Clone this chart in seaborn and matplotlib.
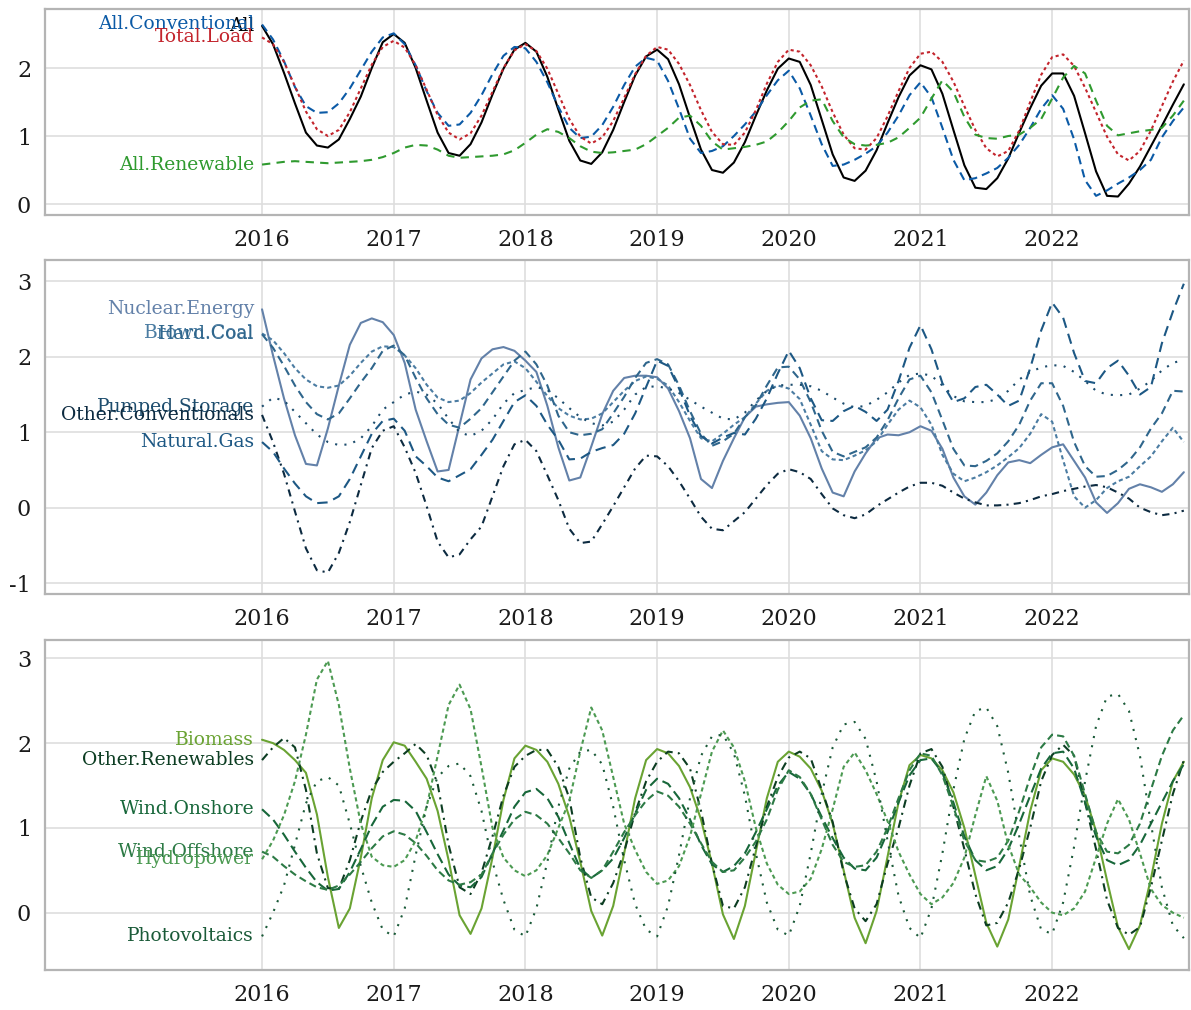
import numpy as np
import pandas as pd
import matplotlib
matplotlib.use("Agg")
import matplotlib.pyplot as plt
import seaborn as sns

# Monthly time axis, Jan 2016 .. Jan 2023 (decimal years)
years = 2016 + np.arange(85) / 12

# ---------------- Panel 1: totals ----------------
all_total = [2.62, 2.35, 1.93, 1.48, 1.05, 0.86, 0.83, 0.95, 1.25, 1.58, 2.00, 2.38,
             2.50, 2.37, 2.00, 1.52, 1.05, 0.75, 0.71, 0.88, 1.20, 1.61, 1.99, 2.27,
             2.37, 2.24, 1.87, 1.39, 0.93, 0.64, 0.59, 0.76, 1.09, 1.50, 1.89, 2.17,
             2.27, 2.13, 1.76, 1.27, 0.80, 0.50, 0.46, 0.61, 0.91, 1.30, 1.67, 1.99,
             2.14, 2.09, 1.75, 1.24, 0.73, 0.39, 0.34, 0.49, 0.79, 1.19, 1.57, 1.89,
             2.04, 1.98, 1.62, 1.09, 0.57, 0.24, 0.22, 0.38, 0.67, 1.05, 1.41, 1.74,
             1.92, 1.92, 1.59, 1.04, 0.48, 0.12, 0.11, 0.30, 0.55, 0.85, 1.15, 1.46,
             1.76]
all_conventional = [2.64, 2.42, 2.10, 1.72, 1.44, 1.34, 1.35, 1.48, 1.70, 1.97, 2.24, 2.45,
                    2.51, 2.35, 2.04, 1.66, 1.34, 1.15, 1.17, 1.34, 1.60, 1.91, 2.18, 2.31,
                    2.29, 2.09, 1.79, 1.43, 1.12, 0.97, 0.99, 1.16, 1.43, 1.75, 2.02, 2.15,
                    2.11, 1.81, 1.40, 0.96, 0.75, 0.78, 0.85, 1.00, 1.17, 1.36, 1.60, 1.82,
                    1.96, 1.70, 1.30, 0.88, 0.56, 0.58, 0.65, 0.74, 0.85, 1.05, 1.30, 1.60,
                    1.79, 1.57, 1.12, 0.65, 0.35, 0.38, 0.45, 0.53, 0.68, 0.87, 1.12, 1.40,
                    1.60, 1.40, 0.95, 0.35, 0.12, 0.20, 0.30, 0.39, 0.50, 0.65, 0.98, 1.22,
                    1.42]
total_load = [2.45, 2.35, 2.09, 1.73, 1.36, 1.10, 1.00, 1.09, 1.35, 1.70, 2.05, 2.31,
              2.40, 2.30, 2.04, 1.68, 1.31, 1.05, 0.95, 1.04, 1.30, 1.65, 2.00, 2.26,
              2.35, 2.25, 1.99, 1.62, 1.25, 0.99, 0.89, 0.98, 1.22, 1.56, 1.91, 2.18,
              2.31, 2.27, 2.06, 1.75, 1.38, 1.06, 0.88, 0.87, 1.05, 1.38, 1.77, 2.09,
              2.27, 2.24, 2.04, 1.73, 1.35, 1.02, 0.82, 0.80, 0.97, 1.29, 1.66, 2.00,
              2.21, 2.24, 2.09, 1.80, 1.44, 1.09, 0.82, 0.70, 0.78, 1.08, 1.50, 1.90,
              2.16, 2.20, 2.03, 1.71, 1.35, 0.99, 0.73, 0.64, 0.78, 1.08, 1.44, 1.80,
              2.11]
all_renewable = [0.58, 0.60, 0.62, 0.63, 0.62, 0.61, 0.60, 0.61, 0.62, 0.63, 0.65, 0.69,
                 0.75, 0.83, 0.87, 0.86, 0.80, 0.71, 0.68, 0.69, 0.70, 0.71, 0.73, 0.79,
                 0.90, 1.02, 1.10, 1.06, 0.97, 0.85, 0.77, 0.75, 0.76, 0.78, 0.80, 0.88,
                 1.00, 1.12, 1.27, 1.30, 1.15, 0.92, 0.80, 0.82, 0.84, 0.87, 0.92, 1.05,
                 1.22, 1.42, 1.52, 1.54, 1.22, 0.98, 0.88, 0.86, 0.87, 0.90, 0.98, 1.12,
                 1.27, 1.55, 1.82, 1.65, 1.28, 1.02, 0.97, 0.96, 1.00, 1.02, 1.12, 1.25,
                 1.55, 1.86, 2.03, 1.92, 1.52, 1.15, 1.01, 1.04, 1.07, 1.09, 1.12, 1.30,
                 1.52]

# ---------------- Panel 2: conventional sources ----------------
nuclear = [2.63, 2.02, 1.45, 0.96, 0.58, 0.56, 1.05, 1.62, 2.16, 2.45, 2.51, 2.46,
           2.29, 1.92, 1.30, 0.88, 0.48, 0.50, 1.10, 1.70, 1.98, 2.10, 2.13, 2.08,
           1.95, 1.80, 1.35, 0.80, 0.36, 0.40, 0.81, 1.24, 1.55, 1.72, 1.75, 1.75,
           1.73, 1.58, 1.28, 0.92, 0.38, 0.26, 0.62, 0.92, 1.20, 1.34, 1.37, 1.39,
           1.40, 1.22, 0.92, 0.52, 0.20, 0.15, 0.48, 0.72, 0.92, 0.97, 0.96, 1.00,
           1.08, 1.02, 0.78, 0.40, 0.15, 0.04, 0.20, 0.43, 0.60, 0.63, 0.59, 0.70,
           0.80, 0.84, 0.62, 0.40, 0.07, -0.07, 0.06, 0.25, 0.31, 0.27, 0.21, 0.31,
           0.47]
brown_coal = [2.31, 2.22, 2.05, 1.85, 1.70, 1.61, 1.59, 1.62, 1.75, 1.92, 2.07, 2.14,
              2.13, 2.02, 1.85, 1.63, 1.46, 1.40, 1.42, 1.52, 1.66, 1.78, 1.90, 1.94,
              1.85, 1.67, 1.48, 1.32, 1.22, 1.17, 1.18, 1.25, 1.40, 1.55, 1.68, 1.74,
              1.71, 1.62, 1.40, 1.15, 0.92, 0.88, 0.98, 1.10, 1.20, 1.38, 1.55, 1.62,
              1.58, 1.44, 1.10, 0.75, 0.64, 0.63, 0.69, 0.76, 0.88, 1.10, 1.30, 1.42,
              1.33, 1.10, 0.70, 0.45, 0.35, 0.40, 0.47, 0.56, 0.67, 0.79, 0.98, 1.24,
              1.14, 0.63, 0.15, 0.00, 0.10, 0.26, 0.35, 0.41, 0.55, 0.68, 0.88, 1.06,
              0.87]
hard_coal = [2.30, 2.12, 1.88, 1.62, 1.40, 1.24, 1.17, 1.25, 1.45, 1.66, 1.85, 2.08,
             2.15, 2.02, 1.72, 1.45, 1.24, 1.10, 1.06, 1.18, 1.32, 1.53, 1.74, 1.95,
             2.07, 1.90, 1.62, 1.22, 1.00, 0.96, 0.98, 1.04, 1.25, 1.47, 1.72, 1.92,
             1.97, 1.90, 1.62, 1.28, 0.98, 0.82, 0.88, 0.98, 1.20, 1.36, 1.62, 1.86,
             1.87, 1.70, 1.40, 1.02, 0.74, 0.68, 0.74, 0.80, 0.93, 1.16, 1.45, 1.70,
             1.75, 1.53, 1.16, 0.78, 0.56, 0.55, 0.62, 0.72, 0.88, 1.10, 1.42, 1.65,
             1.65, 1.35, 0.87, 0.55, 0.41, 0.42, 0.50, 0.62, 0.80, 1.05, 1.25, 1.55,
             1.54]
pumped_storage = [1.34, 1.46, 1.42, 1.27, 1.12, 0.97, 0.87, 0.83, 0.84, 0.92, 1.08, 1.30,
                  1.40, 1.50, 1.54, 1.50, 1.38, 1.18, 1.00, 0.95, 1.02, 1.17, 1.38, 1.52,
                  1.56, 1.60, 1.56, 1.45, 1.32, 1.20, 1.12, 1.09, 1.14, 1.30, 1.50, 1.60,
                  1.61, 1.58, 1.52, 1.43, 1.34, 1.26, 1.18, 1.17, 1.26, 1.42, 1.55, 1.62,
                  1.63, 1.63, 1.61, 1.55, 1.46, 1.38, 1.33, 1.35, 1.43, 1.53, 1.66, 1.76,
                  1.78, 1.75, 1.62, 1.48, 1.41, 1.40, 1.40, 1.44, 1.55, 1.70, 1.80, 1.86,
                  1.89, 1.88, 1.80, 1.68, 1.55, 1.50, 1.49, 1.50, 1.58, 1.68, 1.82, 1.92,
                  1.96]
other_conventionals = [1.23, 0.87, 0.45, -0.05, -0.54, -0.83, -0.86, -0.60, -0.19, 0.30, 0.79, 1.02,
                       1.08, 0.80, 0.46, 0.02, -0.45, -0.66, -0.62, -0.42, -0.25, 0.15, 0.55, 0.84,
                       0.90, 0.75, 0.43, 0.10, -0.28, -0.47, -0.45, -0.22, 0.02, 0.27, 0.52, 0.69,
                       0.68, 0.55, 0.35, 0.12, -0.12, -0.28, -0.30, -0.18, -0.06, 0.12, 0.30, 0.45,
                       0.51, 0.47, 0.38, 0.18, -0.01, -0.10, -0.14, -0.09, 0.02, 0.11, 0.20, 0.28,
                       0.33, 0.33, 0.29, 0.20, 0.12, 0.07, 0.03, 0.03, 0.04, 0.06, 0.10, 0.15,
                       0.18, 0.22, 0.25, 0.28, 0.30, 0.27, 0.20, 0.12, 0.00, -0.06, -0.10, -0.08,
                       -0.04]
natural_gas = [0.87, 0.74, 0.52, 0.32, 0.15, 0.06, 0.07, 0.15, 0.38, 0.68, 0.98, 1.15,
               1.18, 1.02, 0.68, 0.55, 0.40, 0.35, 0.43, 0.51, 0.70, 0.90, 1.15, 1.40,
               1.49, 1.35, 1.10, 0.90, 0.64, 0.65, 0.74, 0.79, 0.83, 0.98, 1.25, 1.60,
               1.95, 1.88, 1.58, 1.22, 0.95, 0.85, 0.93, 0.99, 0.97, 1.18, 1.45, 1.78,
               2.08, 1.85, 1.45, 1.16, 1.15, 1.28, 1.35, 1.27, 1.15, 1.30, 1.68, 2.12,
               2.42, 2.10, 1.65, 1.40, 1.45, 1.60, 1.63, 1.50, 1.35, 1.42, 1.85, 2.35,
               2.72, 2.52, 2.05, 1.68, 1.65, 1.85, 1.95, 1.75, 1.50, 1.60, 2.18, 2.60,
               2.97]

# ---------------- Panel 3: renewable sources ----------------
biomass = [2.04, 2.00, 1.92, 1.80, 1.65, 1.16, 0.42, -0.18, 0.05, 0.65, 1.35, 1.80,
           2.01, 1.97, 1.78, 1.58, 1.20, 0.62, -0.03, -0.25, 0.05, 0.65, 1.33, 1.82,
           1.97, 1.92, 1.78, 1.52, 1.13, 0.60, 0.02, -0.27, 0.08, 0.70, 1.35, 1.80,
           1.93, 1.88, 1.73, 1.48, 1.10, 0.58, -0.02, -0.31, 0.08, 0.72, 1.35, 1.78,
           1.90, 1.84, 1.70, 1.44, 1.05, 0.50, -0.06, -0.36, 0.02, 0.66, 1.30, 1.74,
           1.86, 1.82, 1.68, 1.42, 1.00, 0.44, -0.12, -0.40, -0.08, 0.55, 1.20, 1.68,
           1.82, 1.78, 1.63, 1.38, 0.96, 0.38, -0.17, -0.43, -0.15, 0.40, 1.05, 1.55,
           1.78]
other_renewables = [1.80, 1.95, 2.06, 1.95, 1.45, 0.70, 0.29, 0.28, 0.62, 1.08, 1.45, 1.66,
                    1.78, 1.88, 1.99, 1.86, 1.52, 0.80, 0.30, 0.22, 0.47, 0.90, 1.38, 1.72,
                    1.85, 1.92, 1.92, 1.72, 1.35, 0.65, 0.18, 0.10, 0.35, 0.72, 1.18, 1.55,
                    1.78, 1.90, 1.88, 1.70, 1.20, 0.58, 0.08, 0.05, 0.30, 0.78, 1.25, 1.60,
                    1.83, 1.90, 1.82, 1.45, 1.07, 0.47, 0.05, -0.10, 0.10, 0.58, 1.00, 1.50,
                    1.88, 1.93, 1.72, 1.25, 0.75, 0.22, -0.15, -0.12, 0.12, 0.52, 1.00, 1.55,
                    1.86, 1.98, 1.85, 1.30, 0.75, 0.15, -0.18, -0.26, -0.17, 0.30, 0.85, 1.40,
                    1.80]
wind_onshore = [1.22, 1.10, 0.92, 0.72, 0.53, 0.36, 0.26, 0.28, 0.48, 0.75, 1.03, 1.25,
                1.33, 1.32, 1.20, 0.95, 0.69, 0.45, 0.32, 0.30, 0.42, 0.70, 0.97, 1.25,
                1.42, 1.46, 1.35, 1.13, 0.82, 0.52, 0.41, 0.50, 0.64, 0.88, 1.17, 1.45,
                1.58, 1.52, 1.35, 1.10, 0.80, 0.57, 0.48, 0.55, 0.70, 0.95, 1.22, 1.50,
                1.66, 1.58, 1.40, 1.13, 0.88, 0.65, 0.52, 0.50, 0.65, 0.95, 1.30, 1.62,
                1.80, 1.82, 1.65, 1.30, 0.90, 0.62, 0.50, 0.55, 0.75, 1.05, 1.38, 1.70,
                1.88, 1.90, 1.70, 1.30, 0.90, 0.62, 0.56, 0.62, 0.80, 1.05, 1.30, 1.55,
                1.75]
wind_offshore = [0.72, 0.66, 0.55, 0.45, 0.37, 0.30, 0.27, 0.32, 0.45, 0.60, 0.76, 0.90,
                 0.96, 0.92, 0.82, 0.67, 0.50, 0.38, 0.33, 0.36, 0.45, 0.70, 0.92, 1.10,
                 1.19, 1.15, 1.05, 0.88, 0.70, 0.50, 0.41, 0.50, 0.72, 0.95, 1.15, 1.32,
                 1.43, 1.38, 1.25, 1.05, 0.82, 0.60, 0.48, 0.50, 0.65, 0.84, 1.10, 1.45,
                 1.68, 1.60, 1.40, 1.10, 0.80, 0.60, 0.54, 0.56, 0.72, 1.00, 1.35, 1.68,
                 1.88, 1.85, 1.62, 1.25, 0.85, 0.62, 0.60, 0.65, 0.85, 1.20, 1.60, 1.95,
                 2.10, 2.08, 1.85, 1.40, 0.95, 0.72, 0.70, 0.80, 1.05, 1.45, 1.85, 2.15,
                 2.33]
hydropower = [0.63, 0.85, 1.15, 1.55, 2.10, 2.75, 2.97, 2.45, 1.70, 1.05, 0.66, 0.56,
              0.54, 0.62, 0.85, 1.25, 1.85, 2.45, 2.69, 2.40, 1.72, 1.00, 0.65, 0.50,
              0.43, 0.50, 0.68, 1.00, 1.32, 1.90, 2.42, 2.15, 1.60, 1.05, 0.74, 0.48,
              0.34, 0.38, 0.55, 0.90, 1.40, 1.90, 2.15, 1.95, 1.55, 1.00, 0.58, 0.33,
              0.22, 0.25, 0.40, 0.75, 1.22, 1.72, 1.89, 1.68, 1.40, 1.08, 0.72, 0.45,
              0.22, 0.10, 0.18, 0.35, 0.65, 1.15, 1.61, 1.32, 0.80, 0.45, 0.30, 0.12,
              0.00, -0.03, 0.05, 0.25, 0.65, 1.05, 1.34, 1.10, 0.70, 0.28, 0.09, 0.00,
              -0.06]
photovoltaics = [-0.28, 0.00, 0.32, 0.80, 1.29, 1.55, 1.60, 1.50, 1.05, 0.55, 0.12, -0.20,
                 -0.28, 0.05, 0.68, 1.25, 1.60, 1.73, 1.76, 1.61, 1.20, 0.60, 0.15, -0.20,
                 -0.28, 0.05, 0.60, 1.25, 1.70, 1.90, 1.92, 1.75, 1.25, 0.62, 0.10, -0.20,
                 -0.28, 0.08, 0.68, 1.35, 1.85, 2.08, 2.10, 1.88, 1.38, 0.70, 0.12, -0.20,
                 -0.27, 0.08, 0.70, 1.40, 1.95, 2.22, 2.25, 2.05, 1.55, 0.85, 0.20, -0.18,
                 -0.30, 0.05, 0.70, 1.45, 2.05, 2.38, 2.42, 2.20, 1.65, 0.90, 0.20, -0.20,
                 -0.25, 0.12, 0.78, 1.55, 2.20, 2.55, 2.58, 2.38, 1.85, 1.05, 0.30, -0.15,
                 -0.30]

panels = [
    {
        "series": {"All": all_total, "All.Conventional": all_conventional,
                   "Total.Load": total_load, "All.Renewable": all_renewable},
        "colors": {"All": "#000000", "All.Conventional": "#0b5aa6",
                   "Total.Load": "#c3242c", "All.Renewable": "#2f9a2f"},
        "dashes": {"All": "", "All.Conventional": (4, 2.5),
                   "Total.Load": (1.5, 1.5), "All.Renewable": (4, 3)},
        "ylim": (-0.162, 2.868), "yticks": [0, 1, 2],
    },
    {
        "series": {"Nuclear.Energy": nuclear, "Brown.Coal": brown_coal,
                   "Hard.Coal": hard_coal, "Pumped.Storage": pumped_storage,
                   "Other.Conventionals": other_conventionals, "Natural.Gas": natural_gas},
        "colors": {"Nuclear.Energy": "#6381a9", "Brown.Coal": "#4b7ca2",
                   "Hard.Coal": "#2f668c", "Pumped.Storage": "#1c4c6d",
                   "Other.Conventionals": "#0c2a40", "Natural.Gas": "#1d5884"},
        "dashes": {"Nuclear.Energy": "", "Brown.Coal": (2, 1.5),
                   "Hard.Coal": (4, 2.5), "Pumped.Storage": (1, 3.5),
                   "Other.Conventionals": (3.5, 2.5, 1, 2.5), "Natural.Gas": (5, 3)},
        "ylim": (-1.145, 3.285), "yticks": [-1, 0, 1, 2, 3],
    },
    {
        "series": {"Biomass": biomass, "Other.Renewables": other_renewables,
                   "Wind.Onshore": wind_onshore, "Wind.Offshore": wind_offshore,
                   "Hydropower": hydropower, "Photovoltaics": photovoltaics},
        "colors": {"Biomass": "#6aa333", "Other.Renewables": "#0c3d22",
                   "Wind.Onshore": "#17673a", "Wind.Offshore": "#2c7a45",
                   "Hydropower": "#4c9a52", "Photovoltaics": "#1a5a38"},
        "dashes": {"Biomass": "", "Other.Renewables": (4, 2.5, 1, 2.5),
                   "Wind.Onshore": (5, 2.5), "Wind.Offshore": (3.5, 2),
                   "Hydropower": (2, 1.5), "Photovoltaics": (1, 3.5)},
        "ylim": (-0.676, 3.216), "yticks": [0, 1, 2, 3],
    },
]

sns.set_style("white")
plt.rcParams["font.family"] = ["DejaVu Serif"]
plt.rcParams["axes.unicode_minus"] = False

fig = plt.figure(figsize=(11.91, 10.10), dpi=100)
boxes = [(0.0378, 0.7871, 0.9605, 0.2040),
         (0.0378, 0.4119, 0.9605, 0.3307),
         (0.0378, 0.0396, 0.9605, 0.3267)]

for box, panel in zip(boxes, panels):
    ax = fig.add_axes(box)
    names = list(panel["series"].keys())
    df = pd.DataFrame({
        "year": np.tile(years, len(names)),
        "value": np.concatenate([panel["series"][n] for n in names]),
        "series": np.repeat(names, len(years)),
    })
    sns.lineplot(data=df, x="year", y="value", hue="series", style="series",
                 palette=panel["colors"], dashes=panel["dashes"],
                 estimator=None, errorbar=None, linewidth=1.5,
                 solid_joinstyle="round", dash_joinstyle="round",
                 legend=False, ax=ax)
    for n in names:
        ax.text(2016 - 0.06, panel["series"][n][0], n, ha="right", va="center",
                fontsize=13.5, color=panel["colors"][n])
    ax.set_xlim(2014.352, 2023.039)
    ax.set_ylim(*panel["ylim"])
    ax.set_xticks(range(2016, 2023))
    ax.set_yticks(panel["yticks"])
    ax.set_xlabel("")
    ax.set_ylabel("")
    ax.set_axisbelow(True)
    ax.grid(True, color="#dedede", linewidth=1.2)
    for sp in ax.spines.values():
        sp.set_visible(True)
        sp.set_color("#b4b4b4")
        sp.set_linewidth(1.6)
    ax.tick_params(length=0, pad=10, labelsize=16, labelcolor="#1a1a1a")

fig.savefig("out.png", dpi=100)
